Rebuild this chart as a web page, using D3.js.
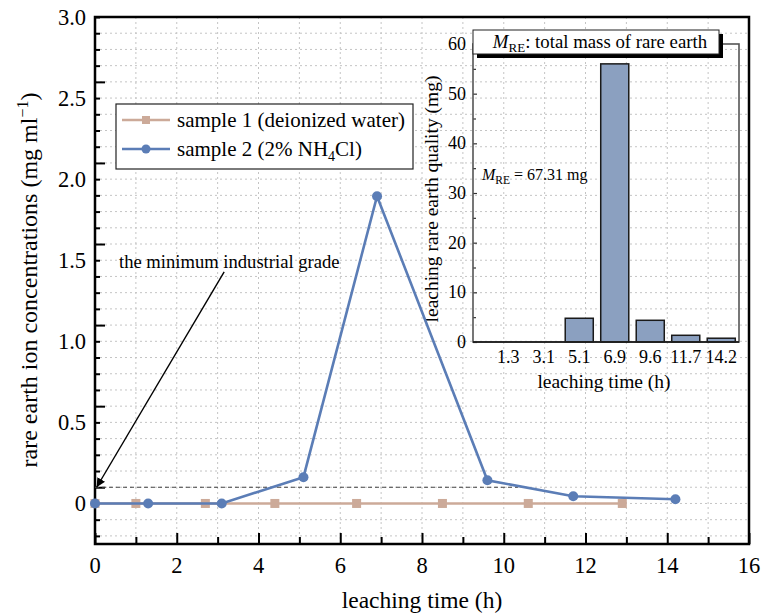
<!DOCTYPE html>
<html lang="en">
<head>
<meta charset="utf-8">
<style>
  body { margin: 0; background: #fff; }
</style>
<script src="https://d3js.org/d3.v7.min.js"></script>
</head>
<body>
<script>
  // main chart data
  let sample1Time = [0, 1.0, 2.7, 4.4, 6.4, 8.5, 10.6, 12.9];
  let sample1Conc = [0, 0, 0, 0, 0, 0, 0, 0];
  let sample2Time = [0, 1.3, 3.1, 5.1, 6.9, 9.6, 11.7, 14.2];
  let sample2Conc = [0, 0, 0, 0.162, 1.895, 0.143, 0.044, 0.026];
  let seriesNames = ["sample 1 (deionized water)", "sample 2 (2% NH4Cl)"];
  let gradeLevel = 0.1;
  let gradeEnd = 10.35;
  let xTicks = [0, 2, 4, 6, 8, 10, 12, 14, 16];
  let yTicks = [0, 0.5, 1.0, 1.5, 2.0, 2.5, 3.0];

  // inset data
  let insetTimes = ["1.3", "3.1", "5.1", "6.9", "9.6", "11.7", "14.2"];
  let insetMass = [0, 0, 4.78, 56.0, 4.37, 1.35, 0.76];
  let insetTicks = [0, 10, 20, 30, 40, 50, 60];

  let W = 763, H = 615;
  let tan = "#ccaa99", blue = "#5b7db6";
  let serif = "'Liberation Serif', 'Times New Roman', 'DejaVu Serif', serif";

  let svg = d3.select("body").append("svg")
    .attr("width", W).attr("height", H)
    .attr("font-family", serif)
    .style("font-family", serif);

  let x = d3.scaleLinear().domain([0, 16]).range([95, 749]);
  let y = d3.scaleLinear().domain([-0.25, 3.0]).range([544, 17]);

  // grid
  let grid = svg.append("g")
    .attr("stroke", "#c4c4c4").attr("stroke-width", 1).attr("stroke-dasharray", "2,3");
  grid.selectAll("line.v").data(d3.range(1, 16)).enter().append("line")
    .attr("x1", d => x(d)).attr("x2", d => x(d))
    .attr("y1", y(3.0)).attr("y2", y(-0.25));
  grid.selectAll("line.h").data(d3.range(-2, 30).map(d => d / 10)).enter().append("line")
    .attr("x1", x(0)).attr("x2", x(16))
    .attr("y1", d => y(d)).attr("y2", d => y(d));

  // axes with inward ticks
  let xAxis = svg.append("g").attr("transform", "translate(0," + y(-0.25) + ")");
  xAxis.call(d3.axisTop(x).tickValues(d3.range(0, 17)).tickSize(7).tickFormat(""))
    .call(g => g.select(".domain").remove());
  xAxis.selectAll(".tick line")
    .attr("y2", d => d % 2 === 0 ? -11 : -7)
    .attr("stroke", "#000").attr("stroke-width", 2);
  svg.append("g").selectAll("text").data(xTicks).enter().append("text")
    .attr("x", d => x(d)).attr("y", y(-0.25) + 29)
    .attr("text-anchor", "middle").style("font-size", "22.5px")
    .text(d => d);

  let yAxis = svg.append("g").attr("transform", "translate(" + x(0) + ",0)");
  yAxis.call(d3.axisRight(y).tickValues(d3.range(-2, 31).map(d => d / 10)).tickFormat(""))
    .call(g => g.select(".domain").remove());
  yAxis.selectAll(".tick line")
    .attr("x2", (d, i) => (i + 2) % 5 === 0 ? 10 : 5)
    .attr("stroke", "#000").attr("stroke-width", 2);
  svg.append("g").selectAll("text").data(yTicks).enter().append("text")
    .attr("x", x(0) - 9).attr("y", d => y(d) + 7.5)
    .attr("text-anchor", "end").style("font-size", "22.5px")
    .text(d => d === 0 ? "0" : d.toFixed(1));

  // frame
  svg.append("rect")
    .attr("x", x(0)).attr("y", y(3.0))
    .attr("width", x(16) - x(0)).attr("height", y(-0.25) - y(3.0))
    .attr("fill", "none").attr("stroke", "#000").attr("stroke-width", 2.5);

  // axis titles
  svg.append("text")
    .attr("x", 422).attr("y", 608)
    .attr("text-anchor", "middle").style("font-size", "23.5px")
    .text("leaching time (h)");
  let yt = svg.append("text")
    .attr("transform", "translate(37," + 280 + ") rotate(-90)")
    .attr("text-anchor", "middle").style("font-size", "24px");
  yt.append("tspan").text("rare earth ion concentrations (mg ml");
  yt.append("tspan").attr("dy", -9).style("font-size", "16px").text("\u22121");
  yt.append("tspan").attr("dy", 9).text(")");

  // minimum industrial grade
  svg.append("line")
    .attr("x1", x(0)).attr("x2", x(gradeEnd))
    .attr("y1", y(gradeLevel)).attr("y2", y(gradeLevel))
    .attr("stroke", "#444").attr("stroke-width", 1.2).attr("stroke-dasharray", "4,3");

  svg.append("defs").append("marker")
    .attr("id", "arrow").attr("viewBox", "0 0 10 10")
    .attr("refX", 10).attr("refY", 5)
    .attr("markerWidth", 9).attr("markerHeight", 9)
    .attr("markerUnits", "userSpaceOnUse")
    .attr("orient", "auto")
    .append("path").attr("d", "M0,0 L10,5 L0,10 Z").attr("fill", "#000");
  svg.append("line")
    .attr("x1", x(3.16)).attr("y1", y(1.428))
    .attr("x2", x(0.04)).attr("y2", y(gradeLevel))
    .attr("stroke", "#000").attr("stroke-width", 1.4)
    .attr("marker-end", "url(#arrow)");
  svg.append("text")
    .attr("x", 119).attr("y", 268).style("font-size", "18.6px")
    .text("the minimum industrial grade");

  // inset bar chart
  let ix = d3.scaleBand().domain(insetTimes).range([490.5, 739])
    .paddingInner(0.21).paddingOuter(0.105);
  let iy = d3.scaleLinear().domain([0, 60]).range([342, 44]);

  svg.append("g").selectAll("rect").data(insetTimes).enter().append("rect")
    .attr("x", d => ix(d)).attr("width", ix.bandwidth())
    .attr("y", (d, i) => iy(insetMass[i]))
    .attr("height", (d, i) => iy(0) - iy(insetMass[i]))
    .attr("fill", "#8ba0c0").attr("stroke", "#1a1a1a").attr("stroke-width", 1.5);

  let iyAxis = svg.append("g").attr("transform", "translate(473,0)");
  iyAxis.call(d3.axisRight(iy).tickValues(d3.range(0, 61, 5)).tickFormat(""))
    .call(g => g.select(".domain").remove());
  iyAxis.selectAll(".tick line")
    .attr("x2", d => d % 10 === 0 ? 4 : 3)
    .attr("stroke", "#333").attr("stroke-width", 1.2);
  svg.append("g").selectAll("text").data(insetTicks).enter().append("text")
    .attr("x", 466).attr("y", d => iy(d) + 6)
    .attr("text-anchor", "end").style("font-size", "18px")
    .text(d => d);
  svg.append("g").selectAll("text").data(insetTimes).enter().append("text")
    .attr("x", d => ix(d) + ix.bandwidth() / 2).attr("y", 363)
    .attr("text-anchor", "middle").style("font-size", "18px")
    .text(d => d);

  svg.append("rect")
    .attr("x", 473).attr("y", iy(60))
    .attr("width", 739 - 473).attr("height", iy(0) - iy(60))
    .attr("fill", "none").attr("stroke", "#555").attr("stroke-width", 1.6);
  svg.append("line")
    .attr("x1", 473).attr("x2", 739).attr("y1", iy(0)).attr("y2", iy(0))
    .attr("stroke", "#111").attr("stroke-width", 1.6);

  svg.append("text")
    .attr("x", 604).attr("y", 388).attr("text-anchor", "middle")
    .style("font-size", "19.5px").text("leaching time (h)");
  svg.append("text")
    .attr("transform", "translate(438," + 199 + ") rotate(-90)")
    .attr("text-anchor", "middle").style("font-size", "19.5px")
    .text("leaching rare earth quality (mg)");

  // inset title box with shadow
  svg.append("rect").attr("x", 477).attr("y", 34).attr("width", 246).attr("height", 24).attr("fill", "#000");
  svg.append("rect").attr("x", 473).attr("y", 30).attr("width", 246).attr("height", 24)
    .attr("fill", "#fff").attr("stroke", "#222").attr("stroke-width", 1);
  let tt = svg.append("text").attr("x", 600).attr("y", 48)
    .attr("text-anchor", "middle").style("font-size", "18.8px");
  tt.append("tspan").style("font-style", "italic").text("M");
  tt.append("tspan").attr("dy", 4).style("font-size", "13px").text("RE");
  tt.append("tspan").attr("dy", -4).text(": total mass of rare earth");

  let mt = svg.append("text").attr("x", 482).attr("y", 180).style("font-size", "16px");
  mt.append("tspan").style("font-style", "italic").text("M");
  mt.append("tspan").attr("dy", 4).style("font-size", "11.5px").text("RE");
  mt.append("tspan").attr("dy", -4).text(" = 67.31 mg");

  // series lines
  let line = d3.line().x(d => x(d[0])).y(d => y(d[1]));
  let s1 = sample1Time.map((t, i) => [t, sample1Conc[i]]);
  let s2 = sample2Time.map((t, i) => [t, sample2Conc[i]]);

  svg.append("path").datum(s1).attr("d", line)
    .attr("fill", "none").attr("stroke", tan).attr("stroke-width", 2.6);
  svg.append("g").selectAll("rect").data(s1).enter().append("rect")
    .attr("x", d => x(d[0]) - 4.5).attr("y", d => y(d[1]) - 4.5)
    .attr("width", 9).attr("height", 9).attr("fill", tan);

  svg.append("path").datum(s2).attr("d", line)
    .attr("fill", "none").attr("stroke", blue).attr("stroke-width", 2.6);
  svg.append("g").selectAll("circle").data(s2).enter().append("circle")
    .attr("cx", d => x(d[0])).attr("cy", d => y(d[1]))
    .attr("r", 5).attr("fill", blue);

  // legend
  let lg = svg.append("g");
  lg.append("rect").attr("x", 116).attr("y", 104).attr("width", 297).attr("height", 65)
    .attr("fill", "#fff").attr("stroke", "#222").attr("stroke-width", 1.2);
  lg.append("line").attr("x1", 122).attr("x2", 170).attr("y1", 120).attr("y2", 120)
    .attr("stroke", tan).attr("stroke-width", 2.6);
  lg.append("rect").attr("x", 142).attr("y", 116).attr("width", 8).attr("height", 8).attr("fill", tan);
  lg.append("text").attr("x", 177).attr("y", 127).style("font-size", "21px").text(seriesNames[0]);
  lg.append("line").attr("x1", 122).attr("x2", 170).attr("y1", 149).attr("y2", 149)
    .attr("stroke", blue).attr("stroke-width", 2.6);
  lg.append("circle").attr("cx", 146).attr("cy", 149).attr("r", 4.5).attr("fill", blue);
  let l2 = lg.append("text").attr("x", 177).attr("y", 156).style("font-size", "21px");
  l2.append("tspan").text("sample 2 (2% NH");
  l2.append("tspan").attr("dy", 5).style("font-size", "14px").text("4");
  l2.append("tspan").attr("dy", -5).text("Cl)");
</script>
</body>
</html>
